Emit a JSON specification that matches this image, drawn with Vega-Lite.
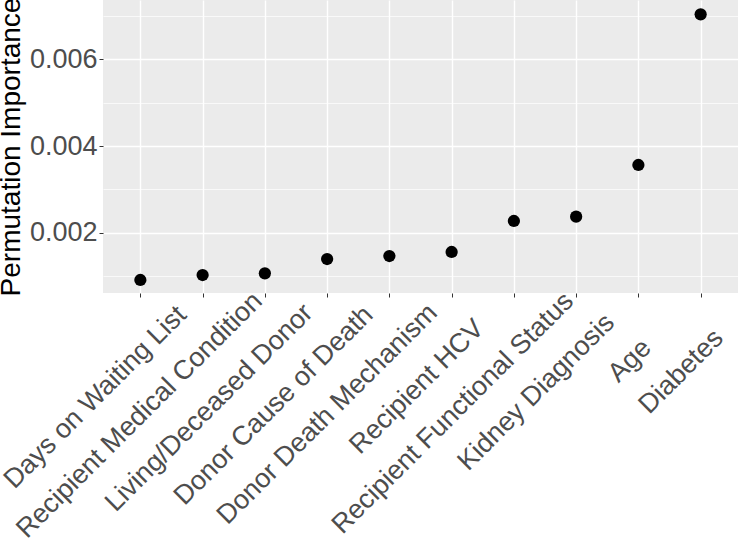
{
  "$schema": "https://vega.github.io/schema/vega-lite/v6.json",
  "width": 635,
  "height": 293,
  "autosize": {"type": "none"},
  "padding": {"left": 103, "top": 0, "right": 2, "bottom": 246},
  "background": "white",
  "config": {
    "view": {"fill": "#EBEBEB", "stroke": null},
    "font": "Liberation Sans"
  },
  "data": {
    "values": [
      {"feature": "Days on Waiting List", "importance": 0.000909},
      {"feature": "Recipient Medical Condition", "importance": 0.001024},
      {"feature": "Living/Deceased Donor", "importance": 0.001063},
      {"feature": "Donor Cause of Death", "importance": 0.001393},
      {"feature": "Donor Death Mechanism", "importance": 0.001462},
      {"feature": "Recipient HCV", "importance": 0.001555},
      {"feature": "Recipient Functional Status", "importance": 0.00227},
      {"feature": "Kidney Diagnosis", "importance": 0.00237},
      {"feature": "Age", "importance": 0.003562},
      {"feature": "Diabetes", "importance": 0.007038}
    ]
  },
  "mark": {"type": "point", "filled": true, "color": "black", "opacity": 1, "size": 150},
  "encoding": {
    "x": {
      "field": "feature",
      "type": "nominal",
      "sort": null,
      "scale": {"type": "point", "padding": 0.6},
      "axis": {
        "title": null,
        "labelAngle": -45,
        "labelAlign": "right",
        "labelBaseline": "top",
        "labelFontSize": 27,
        "labelColor": "#4D4D4D",
        "labelOffset": {"expr": "1.95*length(datum.value) - 7"},
        "labelPadding": {"expr": "43 - 1.95*length(datum.value)"},
        "labelLimit": 0,
        "labelOverlap": false,
        "tickColor": "#333333",
        "tickSize": 4,
        "domain": false,
        "grid": true,
        "gridColor": "white",
        "gridWidth": 1.4
      }
    },
    "y": {
      "field": "importance",
      "type": "quantitative",
      "scale": {"domain": [0.000609, 0.007368], "nice": false, "zero": false},
      "axis": {
        "title": "Permutation Importance",
        "titleFontSize": 28,
        "titleFontWeight": "normal",
        "titleColor": "black",
        "titlePadding": 4,
        "values": [0.001, 0.002, 0.003, 0.004, 0.005, 0.006, 0.007],
        "labelExpr": "round(datum.value*1000) % 2 == 0 ? format(datum.value, '.3f') : ''",
        "labelFontSize": 27,
        "labelColor": "#4D4D4D",
        "labelPadding": 2,
        "labelOverlap": false,
        "tickColor": "#333333",
        "tickSize": 4,
        "tickOpacity": {"condition": {"test": "round(datum.value*1000) % 2 == 0", "value": 1}, "value": 0},
        "domain": false,
        "grid": true,
        "gridColor": "white",
        "gridWidth": {"condition": {"test": "round(datum.value*1000) % 2 == 0", "value": 1.4}, "value": 0.7}
      }
    }
  }
}
